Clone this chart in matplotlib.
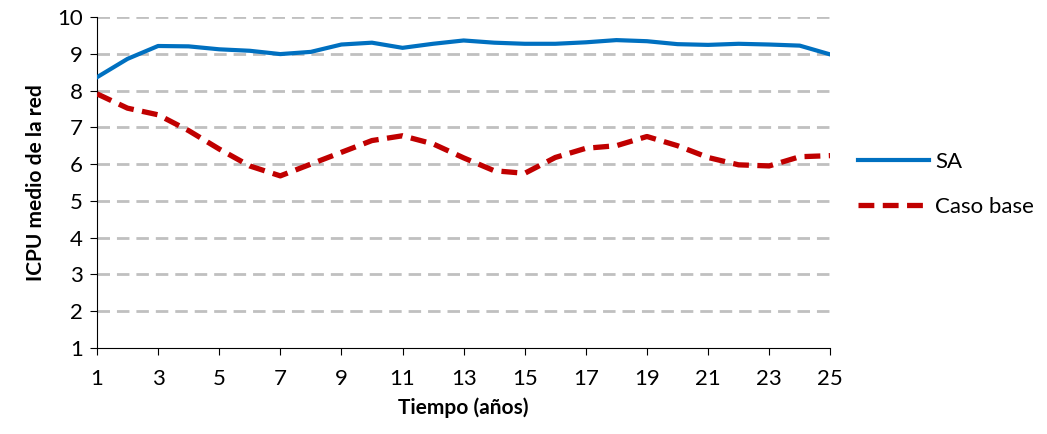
import matplotlib.pyplot as plt

plt.rcParams['font.family'] = ['Lato', 'DejaVu Sans']

years = list(range(1, 26))
sa = [8.36, 8.86, 9.21, 9.20, 9.12, 9.08, 8.99, 9.05, 9.25, 9.30, 9.16, 9.27, 9.36,
      9.30, 9.27, 9.27, 9.31, 9.37, 9.34, 9.26, 9.24, 9.27, 9.25, 9.22, 8.98]
caso_base = [7.91, 7.52, 7.34, 6.91, 6.41, 5.95, 5.68, 6.00, 6.32, 6.64, 6.77, 6.55, 6.17,
             5.82, 5.75, 6.18, 6.43, 6.50, 6.75, 6.50, 6.18, 5.98, 5.95, 6.20, 6.23]
xticks = list(range(1, 26, 2))
yticks = list(range(1, 11))

fig = plt.figure(figsize=(10.47, 4.34), dpi=100)
ax = fig.add_axes([0.0926, 0.198, 0.7004, 0.763])

for y in yticks[1:]:
    ax.axhline(y, color='#c0c0c0', linestyle=(0, (4.5, 2.5)), linewidth=2, zorder=1)

ax.plot(years, sa, color='#0070C0', linewidth=3, label='SA', zorder=3)
ax.plot(years, caso_base, color='#C00000', linewidth=3.8, linestyle=(0, (3, 1.6)),
        label='Caso base', zorder=3)

ax.set_xlim(1, 25)
ax.set_ylim(1, 10)
ax.set_xticks(xticks)
ax.set_yticks(yticks)
ax.tick_params(labelsize=16, length=5, direction='out', colors='black')
ax.tick_params(axis='x', pad=10)
ax.tick_params(axis='y', pad=5)
ax.spines['top'].set_visible(False)
ax.spines['right'].set_visible(False)
ax.spines['left'].set_color('black')
ax.spines['bottom'].set_color('black')
ax.set_xlabel('Tiempo (años)', fontsize=15, fontweight='bold', labelpad=6)
ax.set_ylabel('ICPU medio de la red', fontsize=15, fontweight='bold', labelpad=8)

fig.legend(loc='center left', bbox_to_anchor=(0.8, 0.575), frameon=False, fontsize=16,
           handlelength=3.2, labelspacing=1.1, handletextpad=0.3)

fig.savefig('out.png', dpi=100)
